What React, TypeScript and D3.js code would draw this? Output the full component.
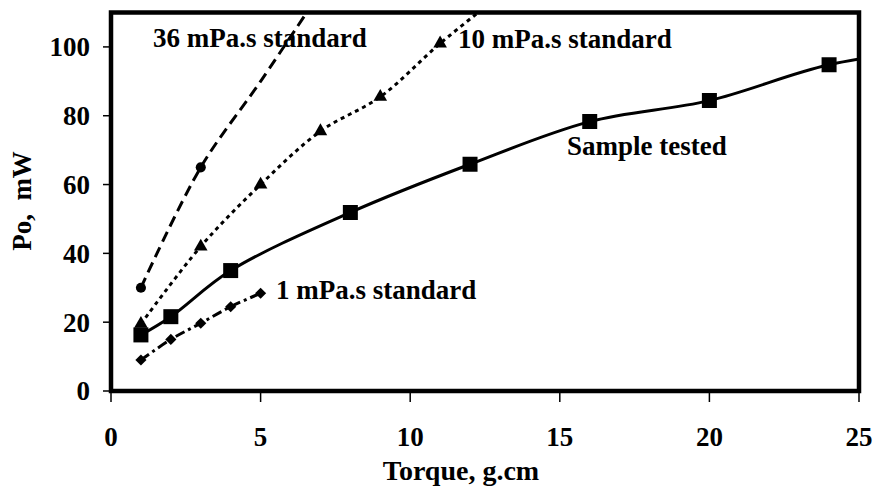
import React from "react";
import * as d3 from "d3";

// axis ticks
const xTicks = [0, 5, 10, 15, 20, 25];
const yTicks = [0, 20, 40, 60, 80, 100];

// Sample tested (solid line, squares) - last point lies past the axis and is clipped
const sampleX = [1, 2, 4, 8, 12, 16, 20, 24, 28];
const sampleY = [16.3, 21.6, 35, 51.9, 65.9, 78.3, 84.4, 94.8, 100];

// 36 mPa.s standard (dashed, circles)
const std36X = [1, 3, 5, 7];
const std36Y = [30, 65, 90, 116];

// 10 mPa.s standard (dotted, triangles)
const std10X = [1, 3, 5, 7, 9, 11, 13];
const std10Y = [19.5, 42, 60, 75.5, 85.5, 101, 115];

// 1 mPa.s standard (dash-dot, diamonds)
const std1X = [1, 2, 3, 4, 5];
const std1Y = [9, 15, 19.7, 24.5, 28.4];

const labels = {
  std36: "36 mPa.s standard",
  std10: "10 mPa.s standard",
  std1: "1 mPa.s standard",
  sample: "Sample tested",
};

function Chart() {
  const width = 887;
  const height = 488;
  const left = 111;
  const right = 859;
  const top = 12.5;
  const bottom = 391;
  const font = "'Liberation Serif', 'Times New Roman', serif";
  const fontSize = 27;

  const x = d3.scaleLinear().domain([0, 25]).range([left, right]);
  const y = d3.scaleLinear().domain([0, 110]).range([bottom, top]);

  const line = d3
    .line<[number, number]>()
    .x((d) => x(d[0]))
    .y((d) => y(d[1]))
    .curve(d3.curveCatmullRom.alpha(0.5));

  const zip = (xs: number[], ys: number[]) =>
    xs.map((v, i) => [v, ys[i]] as [number, number]);

  // marked: how many points get a marker (the rest are hidden under dashes)
  const series = [
    {
      pts: zip(sampleX, sampleY),
      dash: "none",
      symbol: d3.symbol(d3.symbolSquare, 225)(),
      rotate: 0,
      marked: sampleX.length,
    },
    {
      pts: zip(std36X, std36Y),
      dash: "11,6",
      symbol: d3.symbol(d3.symbolCircle, 80)(),
      rotate: 0,
      marked: 2,
    },
    {
      pts: zip(std10X, std10Y),
      dash: "4,4",
      symbol: d3.symbol(d3.symbolTriangle, 80)(),
      rotate: 0,
      marked: std10X.length,
    },
    {
      pts: zip(std1X, std1Y),
      dash: "10,4,3,4",
      symbol: d3.symbol(d3.symbolSquare, 62)(),
      rotate: 45,
      marked: std1X.length,
    },
  ];

  return (
    <svg
      width={width}
      height={height}
      style={{ position: "absolute", left: 0, top: 0, background: "#fff" }}
      fontFamily={font}
      fontWeight="bold"
    >
      <defs>
        <clipPath id="plot">
          <rect x={left} y={top} width={right - left} height={bottom - top} />
        </clipPath>
      </defs>

      <g clipPath="url(#plot)">
        {series.map((s, i) => (
          <g key={i}>
            <path
              d={line(s.pts) ?? ""}
              fill="none"
              stroke="#000"
              strokeWidth={3}
              strokeDasharray={s.dash}
            />
            {s.pts.slice(0, s.marked).map((p, j) => (
              <path
                key={j}
                d={s.symbol ?? ""}
                transform={`translate(${x(p[0])},${y(p[1])}) rotate(${s.rotate})`}
                fill="#000"
              />
            ))}
          </g>
        ))}
      </g>

      {/* frame */}
      <rect
        x={left}
        y={top}
        width={right - left}
        height={bottom - top}
        fill="none"
        stroke="#000"
        strokeWidth={4.5}
      />

      {/* y axis */}
      {yTicks.map((t) => (
        <g key={t}>
          <line x1={left - 8} x2={left} y1={y(t)} y2={y(t)} stroke="#000" strokeWidth={1.5} />
          <text
            x={90}
            y={y(t)}
            dy="0.35em"
            textAnchor="end"
            fontSize={fontSize}
          >
            {t}
          </text>
        </g>
      ))}

      {/* x axis */}
      {xTicks.map((t) => (
        <g key={t}>
          <line x1={x(t)} x2={x(t)} y1={bottom} y2={bottom + 11} stroke="#000" strokeWidth={1.5} />
          <text x={x(t)} y={446} textAnchor="middle" fontSize={fontSize}>
            {t}
          </text>
        </g>
      ))}

      <text x={461} y={480} textAnchor="middle" fontSize={28}>
        Torque, g.cm
      </text>
      <text
        transform="translate(31,201) rotate(-90)"
        textAnchor="middle"
        fontSize={fontSize}
        style={{ whiteSpace: "pre" }}
      >
        {"Po,  mW"}
      </text>

      <text x={153} y={47} fontSize={fontSize}>
        {labels.std36}
      </text>
      <text x={458} y={48} fontSize={fontSize}>
        {labels.std10}
      </text>
      <text x={276} y={299} fontSize={fontSize}>
        {labels.std1}
      </text>
      <text x={567} y={155} fontSize={fontSize}>
        {labels.sample}
      </text>
    </svg>
  );
}

export default function App() {
  return <Chart />;
}
